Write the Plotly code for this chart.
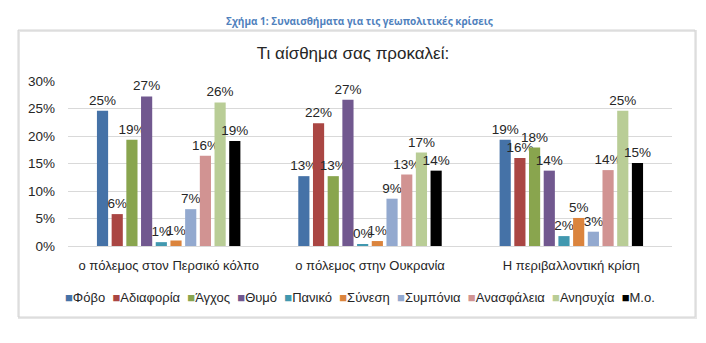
import plotly.graph_objects as go

categories = ["ο πόλεμος στον Περσικό κόλπο", "ο πόλεμος στην Ουκρανία", "Η περιβαλλοντική κρίση"]
series_names = ["Φόβο", "Αδιαφορία", "Άγχος", "Θυμό", "Πανικό", "Σύνεση", "Συμπόνια", "Ανασφάλεια", "Ανησυχία", "Μ.ο."]
colors = ["#4572A7", "#AA4643", "#89A54E", "#71588F", "#4198AF", "#DB843D", "#93A9CF", "#D19392", "#B9CD96", "#000000"]
# values (%) per series, one per category
fobo = [24.6, 12.7, 19.3]
adiaforia = [5.8, 22.3, 16.0]
agxos = [19.3, 12.7, 17.9]
thymo = [27.2, 26.6, 13.7]
paniko = [0.7, 0.3, 1.8]
synesi = [1.0, 0.9, 5.1]
sympoinia = [6.7, 8.6, 2.6]
anasfaleia = [16.4, 13.0, 13.8]
anisyxia = [26.1, 17.0, 24.6]
mo = [19.1, 13.7, 15.1]
series_values = [fobo, adiaforia, agxos, thymo, paniko, synesi, sympoinia, anasfaleia, anisyxia, mo]
y_ticks = [0, 5, 10, 15, 20, 25, 30]
y_tick_labels = [f"{v}%" for v in y_ticks]

FONT = "Liberation Sans, Arial, sans-serif"

fig = go.Figure()
for name, vals, col in zip(series_names, series_values, colors):
    fig.add_trace(go.Bar(
        name=name, x=categories, y=vals,
        marker=dict(color=col, line=dict(width=0)),
        text=[f"{round(v):.0f}%" for v in vals],
        textposition="outside", cliponaxis=False, constraintext="none",
        textfont=dict(family=FONT, size=13.5, color="#262626"),
        showlegend=False,
    ))

W, H = 706, 343
L, R, T, B = 68, 672, 81, 246
pw, ph = R - L, B - T

def px(x):
    return (x - L) / pw

def py(y):
    return (B - y) / ph

legend_text = "&nbsp;&nbsp;".join(
    f"<span style='color:{c}'>■</span>{n}" for n, c in zip(series_names, colors)
)

fig.update_layout(
    width=W, height=H,
    margin=dict(l=L, r=W - R, t=T, b=H - B),
    paper_bgcolor="white", plot_bgcolor="white",
    barmode="group", bargap=0.27, bargroupgap=0.24,
    font=dict(family=FONT, color="#262626"),
    title=dict(text="Τι αίσθημα σας προκαλεί:", x=(353) / W, xanchor="center",
               y=1 - 53 / H, yanchor="middle", yref="container",
               font=dict(family=FONT, size=17, color="#262626")),
    xaxis=dict(tickfont=dict(family=FONT, size=13, color="#262626"),
               showline=False, ticks="", ticklabelstandoff=10),
    yaxis=dict(range=[0, 30], tickvals=y_ticks, ticktext=y_tick_labels,
               tickfont=dict(family=FONT, size=13.5, color="#262626"),
               showgrid=True, gridcolor="#d9d9d9", gridwidth=1,
               zeroline=True, zerolinecolor="#d9d9d9", zerolinewidth=1,
               showline=False, ticks="", ticklabelstandoff=12),
    showlegend=False,
    annotations=[
        dict(text="<b>Σχήμα 1: Συναισθήματα για τις γεωπολιτικές κρίσεις</b>",
             xref="paper", yref="paper", x=px(359), y=py(21),
             xanchor="center", yanchor="middle", showarrow=False,
             font=dict(family="Open Sans, sans-serif", size=10, color="#4F81BD")),
        dict(text=legend_text, xref="paper", yref="paper", x=px(360), y=py(297),
             xanchor="center", yanchor="middle", showarrow=False,
             font=dict(family=FONT, size=13, color="#262626")),
    ],
    shapes=[
        dict(type="rect", xref="paper", yref="paper",
             x0=px(19), x1=px(696), y0=py(318), y1=py(31),
             line=dict(color="#e6e6e6", width=2), layer="below"),
        dict(type="rect", xref="paper", yref="paper",
             x0=px(18), x1=px(695), y0=py(317), y1=py(30),
             line=dict(color="#d4d4d4", width=1), layer="below"),
    ],
)

fig.write_html("out.html")
